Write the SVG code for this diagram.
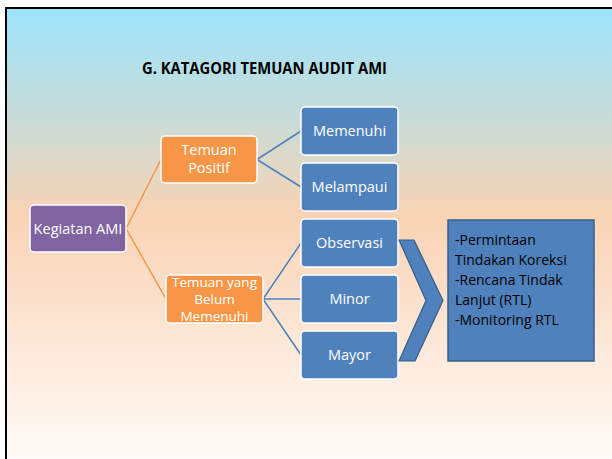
<svg xmlns="http://www.w3.org/2000/svg" width="612" height="459" viewBox="0 0 612 459">
  <defs>
    <linearGradient id="bg" x1="0" y1="0" x2="0" y2="1">
      <stop offset="0" stop-color="#9de4fb"/>
      <stop offset="0.25" stop-color="#cbdcd6"/>
      <stop offset="0.45" stop-color="#f9d3b5"/>
      <stop offset="0.75" stop-color="#fdeadb"/>
      <stop offset="1" stop-color="#fffcfa"/>
    </linearGradient>
    <style>
      .nt { font-family: "Open Sans", "Noto Sans", sans-serif; font-size: 14.5px; fill: #ffffff; text-anchor: middle; }
      .nt2 { font-family: "Open Sans", "Noto Sans", sans-serif; font-size: 13.5px; fill: #ffffff; text-anchor: middle; }
      .box { stroke: #ffffff; stroke-width: 1.5; }
      .blue { fill: #4f81bd; }
      .orange { fill: #f79646; }
      .purple { fill: #8064a2; }
      .co { stroke: #f79646; stroke-width: 1.5; fill: none; }
      .cb { stroke: #4f81bd; stroke-width: 1.5; fill: none; }
      .bt { font-family: "Open Sans", "Noto Sans", sans-serif; font-size: 14px; fill: #000000; }
    </style>
  </defs>
  <rect x="0" y="0" width="612" height="459" fill="#ffffff"/>
  <rect x="6" y="8" width="620" height="460" fill="url(#bg)" stroke="#000000" stroke-width="2"/>
  <text x="264.5" y="73.5" font-family="Open Sans, Noto Sans, sans-serif" font-size="16" font-weight="bold" fill="#000000" text-anchor="middle" textLength="245" lengthAdjust="spacingAndGlyphs">G. KATAGORI TEMUAN AUDIT AMI</text>

  <g id="connectors">
    <path class="co" d="M126,228.5 L161,159.5 M126,228.5 L166,299"/>
    <path class="cb" d="M257,159.5 L301,131 M257,159.5 L301,187"/>
    <path class="cb" d="M263,299 L301,243 M263,299 L301,299 M263,299 L301,355"/>
  </g>

  <g id="kegiatan">
    <rect class="box purple" x="30" y="205" width="96" height="47" rx="4"/>
    <text class="nt" x="78" y="233.5">Kegiatan AMI</text>
  </g>
  <g id="positif">
    <rect class="box orange" x="161" y="136" width="96" height="47" rx="4"/>
    <text class="nt" x="209" y="155">Temuan</text>
    <text class="nt" x="209" y="173">Positif</text>
  </g>
  <g id="belum">
    <rect class="box orange" x="166" y="275" width="97" height="48" rx="4"/>
    <text class="nt2" x="214.5" y="287">Temuan yang</text>
    <text class="nt2" x="214.5" y="304">Belum</text>
    <text class="nt2" x="214.5" y="320.5">Memenuhi</text>
  </g>
  <g id="memenuhi">
    <rect class="box blue" x="301" y="107" width="97" height="48" rx="4"/>
    <text class="nt" x="349.5" y="136">Memenuhi</text>
  </g>
  <g id="melampaui">
    <rect class="box blue" x="301" y="163" width="97" height="48" rx="4"/>
    <text class="nt" x="349.5" y="192">Melampaui</text>
  </g>
  <g id="observasi">
    <rect class="box blue" x="301" y="219" width="97" height="48" rx="4"/>
    <text class="nt" x="349.5" y="248">Observasi</text>
  </g>
  <g id="minor">
    <rect class="box blue" x="301" y="275" width="97" height="48" rx="4"/>
    <text class="nt" x="349.5" y="304">Minor</text>
  </g>
  <g id="mayor">
    <rect class="box blue" x="301" y="331" width="97" height="48" rx="4"/>
    <text class="nt" x="349.5" y="360">Mayor</text>
  </g>
  <g id="chevron">
    <polygon points="399,240 414,240 443,300.5 415,361 399,361 426,300.5" fill="#4f81bd" stroke="#385d8a" stroke-width="1.2" stroke-linejoin="round"/>
  </g>
  <g id="tindakan">
    <rect x="448" y="220" width="146" height="141" fill="#4f81bd" stroke="#385d8a" stroke-width="1.5"/>
    <text class="bt" x="455" y="245">-Permintaan</text>
    <text class="bt" x="455" y="265">Tindakan Koreksi</text>
    <text class="bt" x="455" y="285">-Rencana Tindak</text>
    <text class="bt" x="455" y="305">Lanjut (RTL)</text>
    <text class="bt" x="455" y="325">-Monitoring RTL</text>
  </g>
</svg>
